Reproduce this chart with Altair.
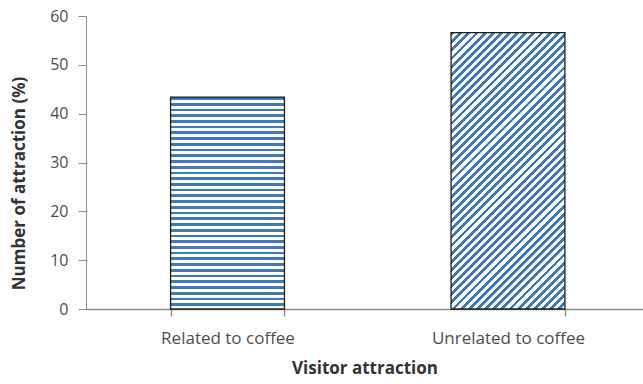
import math
import altair as alt
import pandas as pd

# ---- data ----
categories = ["Related to coffee", "Unrelated to coffee"]
values = [43.4, 56.6]
y_ticks = [0, 10, 20, 30, 40, 50, 60]

df = pd.DataFrame({"category": categories, "value": values})

# ---- layout / style ----
PLOT_W, PLOT_H = 557, 293
Y_MAX = 60
P_INNER, P_OUTER, ALIGN = 0.594, 0.29, 0.52
BLUE = "#4079b3"
WHITE = "#ffffff"
EDGE = "#1d1d1d"
AXIS_GREY = "#8c8c8c"
FONT = "Open Sans"
PERIOD = 5.7  # stripe period in px

step = PLOT_W / (len(categories) - P_INNER + 2 * P_OUTER)
bar_w = step * (1 - P_INNER)


def stripe_stops(n, frac=0.48):
    stops = []
    for i in range(n):
        a = i / n
        b = (i + frac) / n
        c = (i + 1) / n
        stops += [
            {"offset": a, "color": BLUE},
            {"offset": b, "color": BLUE},
            {"offset": b, "color": WHITE},
            {"offset": c, "color": WHITE},
        ]
    return stops


# horizontal stripes for first bar
h1 = values[0] / Y_MAX * PLOT_H
n1 = max(1, round(h1 / PERIOD))
fill_h = {"gradient": "linear", "x1": 0, "y1": 0, "x2": 0, "y2": 1,
          "stops": stripe_stops(n1)}

# diagonal (45 deg, rising to the right) stripes for second bar
h2 = values[1] / Y_MAX * PLOT_H
k = (bar_w + h2) / (bar_w ** 2 + h2 ** 2)
n2 = max(1, round(((bar_w + h2) / math.sqrt(2)) / PERIOD))
fill_d = {"gradient": "linear", "x1": 0, "y1": 0,
          "x2": k * bar_w, "y2": k * h2, "stops": stripe_stops(n2)}

x_enc = alt.X(
    "category:N",
    sort=categories,
    scale=alt.Scale(domain=categories, paddingInner=P_INNER,
                    paddingOuter=P_OUTER, align=ALIGN),
    axis=alt.Axis(
        title="Visitor attraction", labelAngle=0, tickBand="extent",
        domainColor=AXIS_GREY, domainWidth=1.5, tickColor=AXIS_GREY,
        tickWidth=1.5, tickSize=7, labelPadding=14,
        labelFont=FONT, labelFontSize=17, labelColor="#4d4d4d",
        titleFont=FONT, titleFontSize=17, titleFontWeight="bold",
        titleColor="#333333", titleY=51, titleBaseline="top",
    ),
)
y_enc = alt.Y(
    "value:Q",
    scale=alt.Scale(domain=[0, Y_MAX], nice=False),
    axis=alt.Axis(
        title="Number of attraction (%)", values=y_ticks, grid=False,
        domainColor=AXIS_GREY, tickColor=AXIS_GREY, tickSize=8,
        labelPadding=10, labelFont=FONT, labelFontSize=16,
        labelColor="#4d4d4d", titleFont=FONT, titleFontSize=17,
        titleFontWeight="bold", titleColor="#333333",
        titleX=-62, titleY=167, titleBaseline="alphabetic",
        titleAngle=270,
    ),
)

base = alt.Chart(df).encode(x=x_enc, y=y_enc)

bar1 = base.transform_filter(alt.datum.category == categories[0]).mark_bar(
    fill=fill_h, stroke=EDGE, strokeWidth=1.3)
bar2 = base.transform_filter(alt.datum.category == categories[1]).mark_bar(
    fill=fill_d, stroke=EDGE, strokeWidth=1.3)

chart = alt.layer(bar1, bar2).properties(
    width=PLOT_W, height=PLOT_H,
    autosize=alt.AutoSizeParams(type="none"),
    padding={"left": 86, "top": 16, "right": 0, "bottom": 75},
    background="white",
).configure_view(stroke=None)

chart.save("out.html", embed_options={"renderer": "svg", "actions": False})
